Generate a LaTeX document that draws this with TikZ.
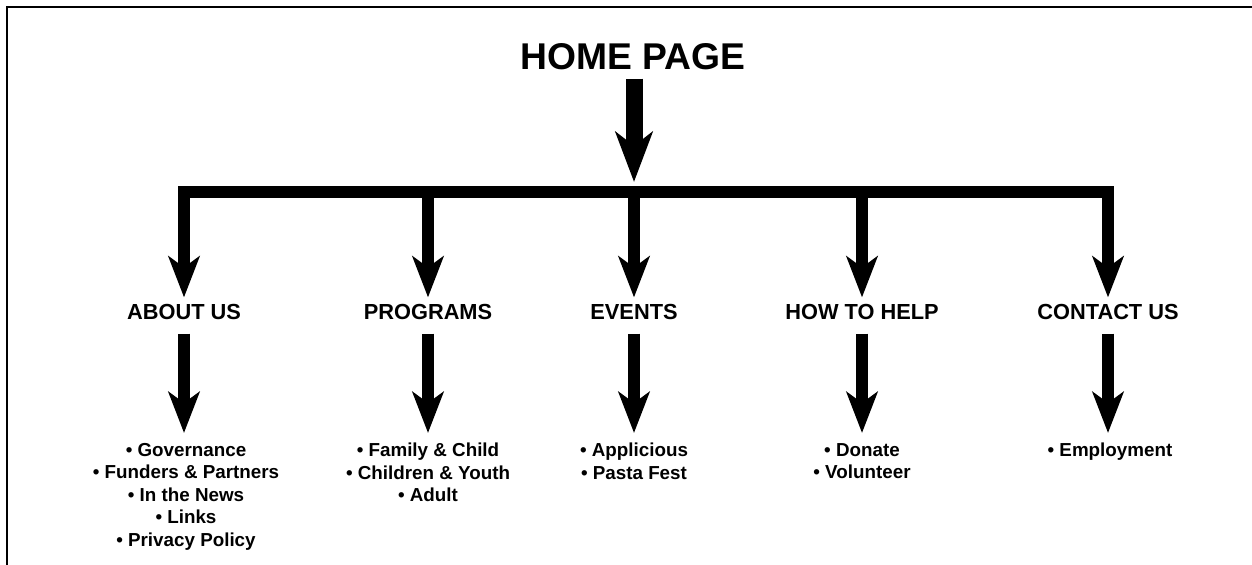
\documentclass[tikz,border=0pt]{standalone}
\usepackage{fontspec}
\setmainfont{Liberation Sans}
\usetikzlibrary{arrows.meta, positioning, calc}
\tikzset{
  title/.style={font=\fontsize{21.2}{25}\selectfont\bfseries, inner sep=0pt},
  branch/.style={font=\fontsize{12.4}{14}\selectfont\bfseries, inner sep=0pt},
  items/.style={
    font=\fontsize{10.7}{12.76}\selectfont\bfseries,
    align=center, inner sep=0pt, anchor=north
  },
  bigarr/.style={-{Stealth[length=1cm, width=0.74cm, inset=0.28cm]}, line width=0.34cm},
  arr/.style={-{Stealth[length=0.82cm, width=0.62cm, inset=0.22cm]}, line width=0.226cm},
  barline/.style={line width=0.252cm},
  frame/.style={line width=1.1pt}
}

\begin{document}
\begin{tikzpicture}
  \useasboundingbox (0,0) rectangle (25.04,11.3);
  \draw[frame] (25.04,11.166) -- (0.134,11.166) -- (0.134,0);

  \node[title] (home) at (12.66,10.16) {HOME PAGE};
  \coordinate (bar) at (12.68,7.46);

  \node[branch] (about) at (3.68,5.05) {ABOUT US};
  \node[branch] (programs) at (8.56,5.05) {PROGRAMS};
  \node[branch] (events) at (12.68,5.05) {EVENTS};
  \node[branch] (help) at (17.24,5.05) {HOW TO HELP};
  \node[branch] (contact) at (22.16,5.05) {CONTACT US};

  \node[items] (aboutlist) at (3.72,2.44)
    {• Governance\\• Funders \& Partners\\• In the News\\• Links\\• Privacy Policy};
  \node[items] (programslist) at (8.56,2.44)
    {• Family \& Child\\• Children \& Youth\\• Adult};
  \node[items] (eventslist) at (12.68,2.44) {• Applicious\\• Pasta Fest};
  \node[items] (helplist) at (17.24,2.44) {• Donate\\• Volunteer};
  \node[items] (contactlist) at (22.2,2.44) {• Employment};

  % home page down to the bar
  \draw[bigarr, shorten <=0.16cm, shorten >=0.2cm] (bar |- home.south) -- (bar);
  \draw[barline] ([xshift=-0.113cm]bar -| about) -- ([xshift=0.113cm]bar -| contact);

  % bar to the sections
  \draw[arr, shorten >=0.14cm] (bar -| about) -- (about.north);
  \draw[arr, shorten >=0.14cm] (bar -| programs) -- (programs.north);
  \draw[arr, shorten >=0.14cm] (bar -| events) -- (events.north);
  \draw[arr, shorten >=0.14cm] (bar -| help) -- (help.north);
  \draw[arr, shorten >=0.14cm] (bar -| contact) -- (contact.north);

  % sections to their pages
  \draw[arr, shorten <=0.26cm, shorten >=0.2cm] (about.south) -- (about.south |- aboutlist.north);
  \draw[arr, shorten <=0.26cm, shorten >=0.2cm] (programs.south) -- (programs.south |- programslist.north);
  \draw[arr, shorten <=0.26cm, shorten >=0.2cm] (events.south) -- (events.south |- eventslist.north);
  \draw[arr, shorten <=0.26cm, shorten >=0.2cm] (help.south) -- (help.south |- helplist.north);
  \draw[arr, shorten <=0.26cm, shorten >=0.2cm] (contact.south) -- (contact.south |- contactlist.north);
\end{tikzpicture}
\end{document}
